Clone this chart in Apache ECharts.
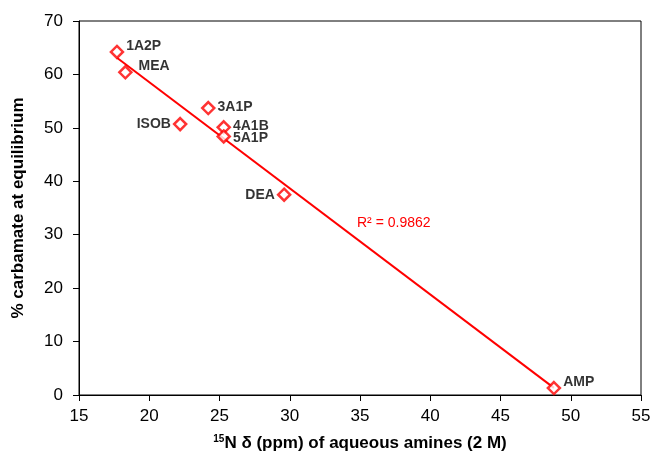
<!DOCTYPE html>
<html>
<head>
<meta charset="utf-8">
<script src="https://cdn.jsdelivr.net/npm/echarts@6/dist/echarts.min.js"></script>
<style>
  html, body { margin: 0; padding: 0; background: #fff; }
  #chart { width: 653px; height: 451px; }
</style>
</head>
<body>
<div id="chart"></div>
<script>
// amines, 15N shift and carbamate share
var amines = ['1A2P', 'MEA', '3A1P', 'ISOB', '4A1B', '5A1P', 'DEA', 'AMP'];
var shift = [17.7, 18.3, 24.2, 22.2, 25.3, 25.3, 29.6, 48.8];
var carbamate = [64.2, 60.4, 53.7, 50.7, 50.1, 48.4, 37.5, 1.3];
// where each label sits relative to its point
var labelPos = ['right', 'right', 'right', 'left', 'right', 'right', 'left', 'right'];
var labelOff = [[0, -6], [4, -6], [0, -1], [0, 0], [0, -1], [0, 2], [0, 0], [0, -6]];

// least squares trend line, like the excel one
function fit(xs, ys) {
  var n = xs.length, sx = 0, sy = 0, sxx = 0, sxy = 0;
  for (var i = 0; i < n; i++) {
    sx += xs[i]; sy += ys[i]; sxx += xs[i] * xs[i]; sxy += xs[i] * ys[i];
  }
  var b = (n * sxy - sx * sy) / (n * sxx - sx * sx);
  var a = (sy - b * sx) / n;
  return { a: a, b: b };
}
var lr = fit(shift, carbamate);
var xMin = Math.min.apply(null, shift), xMax = Math.max.apply(null, shift);
var trend = [[xMin, lr.a + lr.b * xMin], [xMax, lr.a + lr.b * xMax]];

var points = shift.map(function (x, i) {
  return {
    value: [x, carbamate[i]],
    label: { position: labelPos[i], offset: labelOff[i] }
  };
});

var chart = echarts.init(document.getElementById('chart'));
chart.setOption({
  animation: false,
  textStyle: { fontFamily: 'Liberation Sans, Arial, sans-serif' },
  grid: {
    left: 79, right: 12, top: 21, bottom: 56,
    outerBoundsMode: 'none',
    show: true, borderColor: '#000', borderWidth: 1
  },
  xAxis: {
    type: 'value',
    min: 15, max: 55, interval: 5,
    name: '{sup|15}N δ (ppm) of aqueous amines (2 M)',
    nameLocation: 'middle',
    nameGap: 39,
    nameTextStyle: {
      color: '#000', fontSize: 17, fontWeight: 'bold',
      rich: { sup: { fontSize: 10, fontWeight: 'bold', verticalAlign: 'top', padding: [0, 0, 8, 0] } }
    },
    axisLine: { lineStyle: { color: '#000', width: 1 } },
    axisTick: { inside: false, length: 6, lineStyle: { color: '#000' } },
    axisLabel: { color: '#000', fontSize: 17, margin: 13 },
    splitLine: { show: false }
  },
  yAxis: {
    type: 'value',
    min: 0, max: 70, interval: 10,
    name: '% carbamate at equilibrium',
    nameLocation: 'middle',
    nameGap: 52,
    nameTextStyle: { color: '#000', fontSize: 17, fontWeight: 'bold' },
    axisLine: { show: true, lineStyle: { color: '#000', width: 1 } },
    axisTick: { show: true, inside: false, length: 6, lineStyle: { color: '#000' } },
    axisLabel: { color: '#000', fontSize: 17, margin: 16 },
    splitLine: { show: false }
  },
  series: [
    {
      type: 'line',
      data: trend,
      symbol: 'none',
      lineStyle: { color: '#ff0000', width: 2 },
      z: 1
    },
    {
      type: 'scatter',
      data: points,
      symbol: 'diamond',
      symbolSize: 12,
      itemStyle: { color: '#fff', borderColor: '#ff0000', borderWidth: 2.5 },
      label: {
        show: true,
        formatter: function (p) { return amines[p.dataIndex]; },
        color: '#000', fontSize: 14, fontWeight: 'bold', distance: 2
      },
      z: 3
    }
  ],
  graphic: [{
    type: 'text',
    left: 357, top: 216,
    style: { text: 'R² = 0.9862', fill: '#ff0000', fontSize: 14, fontFamily: 'Liberation Sans, Arial, sans-serif' }
  }]
});
</script>
</body>
</html>
